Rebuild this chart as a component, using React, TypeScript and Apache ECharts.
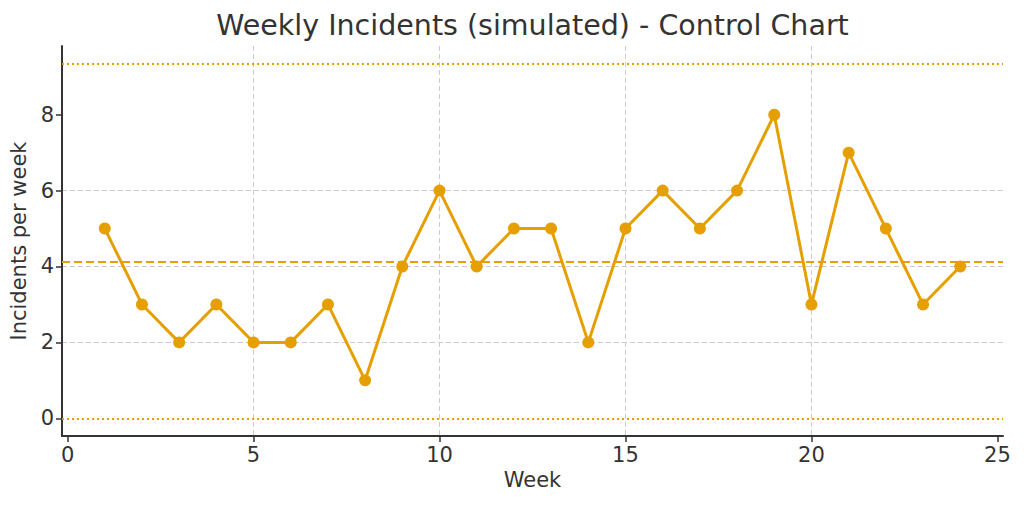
import React, { useEffect, useRef } from "react";
import * as echarts from "echarts";

const weeks = [1, 2, 3, 4, 5, 6, 7, 8, 9, 10, 11, 12, 13, 14, 15, 16, 17, 18, 19, 20, 21, 22, 23, 24];
const incidents = [5, 3, 2, 3, 2, 2, 3, 1, 4, 6, 4, 5, 5, 2, 5, 6, 5, 6, 8, 3, 7, 5, 3, 4];
const meanLine = 4.125;
const upperLimit = 9.34;
const lowerLimit = 0;
const xTicks = [0, 5, 10, 15, 20, 25];
const yTicks = [0, 2, 4, 6, 8];

const ORANGE = "#E69F00";
const TEXT = "#333333";

export default function App() {
  const ref = useRef<HTMLDivElement>(null);
  useEffect(() => {
    if (!ref.current) return;
    const chart = echarts.init(ref.current, null, { renderer: "svg" });
    const font = "DejaVu Sans";
    chart.setOption({
      animation: false,
      backgroundColor: "#ffffff",
      graphic: [
        {
          type: "text",
          x: 532.5,
          y: 25,
          style: {
            text: "Weekly Incidents (simulated) - Control Chart",
            fontFamily: font,
            fontSize: 28.5,
            fill: TEXT,
            textAlign: "center",
            textVerticalAlign: "middle",
          },
        },
      ],
      grid: { left: 62, right: 21, top: 46, bottom: 70 },
      xAxis: {
        type: "value",
        min: -0.15,
        max: 25.15,
        interval: 5,
        name: "Week",
        nameLocation: "middle",
        nameGap: 32,
        nameTextStyle: { fontFamily: font, fontSize: 21, color: TEXT },
        axisLine: { show: true, onZero: false, lineStyle: { color: TEXT, width: 2 } },
        axisTick: { show: true, inside: false, length: 6, customValues: xTicks, lineStyle: { color: TEXT, width: 1.5 } },
        axisLabel: { customValues: xTicks, margin: 8, fontFamily: font, fontSize: 21, color: TEXT },
        splitLine: {
          show: true,
          showMinLine: false,
          showMaxLine: false,
          lineStyle: { color: "#cccccc", width: 1, type: [5, 3] },
        },
      },
      yAxis: {
        type: "value",
        min: -0.467,
        max: 9.811,
        interval: 2,
        name: "Incidents per week",
        nameLocation: "middle",
        nameGap: 33,
        nameTextStyle: { fontFamily: font, fontSize: 21, color: TEXT },
        axisLine: { show: true, onZero: false, lineStyle: { color: TEXT, width: 2 } },
        axisTick: { show: true, inside: false, length: 6, customValues: yTicks, lineStyle: { color: TEXT, width: 1.5 } },
        axisLabel: { customValues: yTicks, margin: 8, fontFamily: font, fontSize: 21, color: TEXT },
        splitLine: {
          show: true,
          showMinLine: false,
          showMaxLine: false,
          lineStyle: { color: "#cccccc", width: 1, type: [5, 3] },
        },
      },
      series: [
        {
          type: "line",
          data: weeks.map((w, i) => [w, incidents[i]]),
          symbol: "circle",
          symbolSize: 12,
          lineStyle: { color: ORANGE, width: 3 },
          itemStyle: { color: ORANGE },
          z: 5,
          markLine: {
            silent: true,
            symbol: "none",
            label: { show: false },
            data: [
              { yAxis: meanLine, lineStyle: { color: ORANGE, width: 2, type: [8, 4] } },
              { yAxis: upperLimit, lineStyle: { color: ORANGE, width: 2, type: [2, 3] } },
              { yAxis: lowerLimit, lineStyle: { color: ORANGE, width: 2, type: [2, 3] } },
            ],
          },
        },
      ],
    });
    return () => chart.dispose();
  }, []);
  return (
    <div
      ref={ref}
      style={{ position: "fixed", left: 0, top: 0, width: 1024, height: 506 }}
    />
  );
}
